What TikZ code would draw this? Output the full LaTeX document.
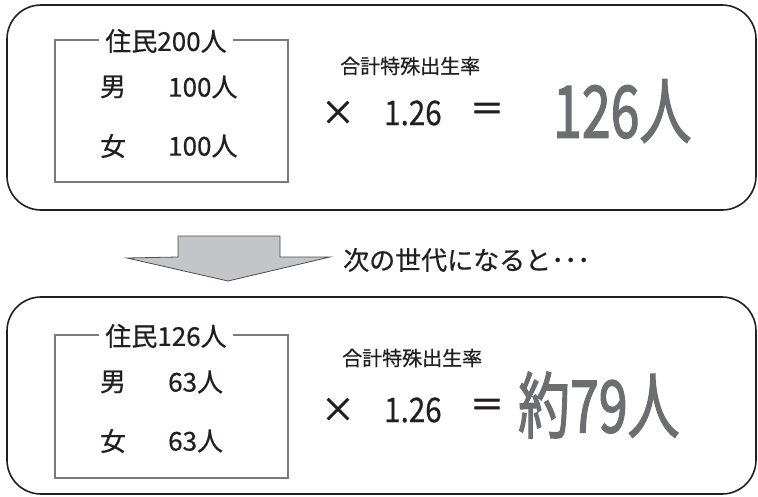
\documentclass[tikz,border=0pt]{standalone}
\usepackage{fontspec}
\usepackage{graphicx}
\setmainfont{Noto Sans CJK JP}[FakeBold=0.6]
\newfontfamily\bigfont{Noto Sans CJK JP}[FakeBold=2.2]
\newfontfamily\symfont{Noto Sans CJK JP}[FakeBold=1.6]
\definecolor{bigg}{HTML}{6D6E71}
\definecolor{frameg}{HTML}{7A7A7A}
\definecolor{arrowg}{HTML}{C4C5C8}
\definecolor{ink}{HTML}{231F20}
\tikzset{
  outerbox/.style={draw=ink, line width=1.6pt, rounded corners=34pt},
  innerbox/.style={draw=frameg, line width=1.3pt},
  title/.style={fill=white, inner xsep=6pt, inner ysep=1pt, text=ink, font=\fontsize{26}{30}\selectfont},
  lbl/.style={text=ink, inner sep=0pt, font=\fontsize{26}{30}\selectfont},
  small/.style={text=ink, inner sep=0pt, font=\fontsize{20}{24}\selectfont},
  mid/.style={text=ink, inner sep=0pt, font=\fontsize{34}{38}\selectfont},
  sym/.style={text=ink, inner sep=0pt, font=\symfont\fontsize{34}{38}\selectfont},
  big/.style={text=bigg, inner sep=0pt, font=\bigfont\fontsize{72}{78}\selectfont},
}
\begin{document}
\begin{tikzpicture}[x=1pt,y=-1pt]
\useasboundingbox (0,0) rectangle (758,496);
% top panel
\draw[outerbox] (7,5) rectangle (756,210);
\draw[innerbox] (55,40) rectangle (288,182);
\node[title] (t1) at (166,41) {住民200人};
\node[lbl] (m1) at (113,87) {男};
\node[lbl,anchor=west] (m1n) at (168,87) {100人};
\node[lbl] (f1) at (113,146) {女};
\node[lbl,anchor=west] (f1n) at (168,146) {100人};
\node[small,anchor=west] (r1) at (340,66) {合計特殊出生率};
\node[sym] (x1) at (338,113) {×};
\node[mid,anchor=west] (v1) at (384,113) {\scalebox{0.87}[1]{1.26}};
\node[sym] (e1) at (487,112) {＝};
\node[big,anchor=west] (res1) at (553,111) {\scalebox{0.72}[1]{126人}};
% arrow
\draw[draw=ink!80, fill=arrowg, line width=0.8pt] (178,236) -- (280,236) -- (280,257) -- (330,257) -- (228,281) -- (127,258) -- (178,257) -- cycle;
\node[lbl,anchor=west] (next) at (343,260) {次の世代になると･･･};
% bottom panel
\draw[outerbox] (7,297) rectangle (756,494);
\draw[innerbox] (55,335) rectangle (288,478);
\node[title] (t2) at (166,336) {住民126人};
\node[lbl] (m2) at (113,382) {男};
\node[lbl,anchor=west] (m2n) at (168,382) {63人};
\node[lbl] (f2) at (113,441) {女};
\node[lbl,anchor=west] (f2n) at (168,441) {63人};
\node[small,anchor=west] (r2) at (342,358) {合計特殊出生率};
\node[sym] (x2) at (338,410) {×};
\node[mid,anchor=west] (v2) at (384,410) {\scalebox{0.87}[1]{1.26}};
\node[sym] (e2) at (487,408) {＝};
\node[big,anchor=west] (res2) at (518,405) {\scalebox{0.72}[1]{約79人}};
\end{tikzpicture}
\end{document}
